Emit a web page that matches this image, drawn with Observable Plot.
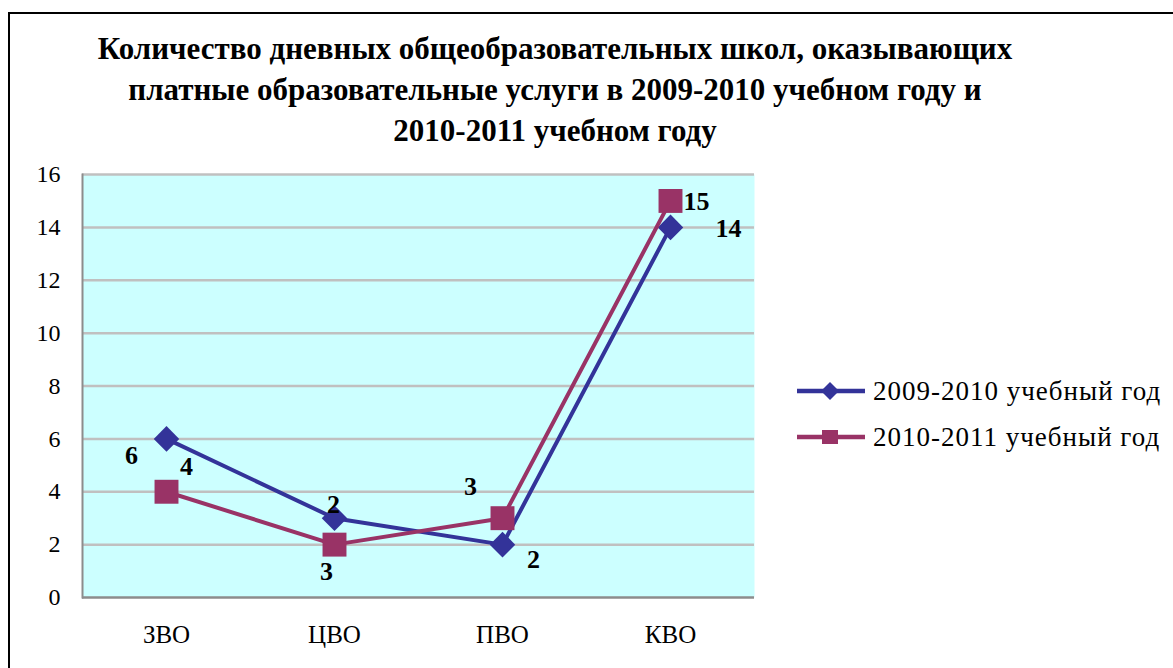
<!DOCTYPE html>
<html>
<head>
<meta charset="utf-8">
<script src="https://cdn.jsdelivr.net/npm/d3@7"></script>
<script src="https://cdn.jsdelivr.net/npm/@observablehq/plot@0.6"></script>
<style>
  html, body { margin: 0; padding: 0; background: #fff; }
  #wrap { position: relative; width: 1173px; height: 668px; overflow: hidden; background: #fff; color: #000; }
  #border { position: absolute; left: 8px; top: 12px; width: 1300px; height: 800px; border: 2px solid #000; }
  #title { position: absolute; left: 0; top: 28px; width: 1110px; text-align: center;
           font-weight: bold; font-size: 31px; line-height: 41px; }
  #chart { position: absolute; left: 0; top: 150px; }
  #legend { position: absolute; left: 797px; top: 368px; }
  .lg-row { display: flex; align-items: center; height: 46px; }
  .lg-row span { font-size: 27px; letter-spacing: 1px; margin-left: 8px; white-space: nowrap; }
</style>
</head>
<body>
<div id="wrap" style="font-family:'Liberation Serif'">
  <div id="border"></div>
  <div id="title" style="font-family:'Liberation Serif'"></div>
  <div id="chart"></div>
  <div id="legend" style="font-family:'Liberation Serif'"></div>
</div>
<script>
// ---- data ----
const categories = ["ЗВО", "ЦВО", "ПВО", "КВО"];
const values0910 = [6, 3, 2, 14];
const values1011 = [4, 2, 3, 15];
const labels0910 = ["6", "2", "2", "14"];
const labels1011 = ["4", "3", "3", "15"];
const yTicks = [0, 2, 4, 6, 8, 10, 12, 14, 16];
const seriesNames = ["2009-2010 учебный год", "2010-2011 учебный год"];
const titleLines = [
  "Количество дневных общеобразовательных школ, оказывающих",
  "платные образовательные услуги в 2009-2010 учебном году и",
  "2010-2011 учебном году"
];

// ---- layout/style constants ----
const colors = ["#333399", "#993366"];
const serif = "Liberation Serif";
const offsets0910 = [[-35, 17], [-1, -14], [31, 15], [58, 1]];
const offsets1011 = [[20, -25], [-8, 27], [-32, -32], [26, 1]];

document.getElementById("title").innerHTML = titleLines.map(t => `<div>${t}</div>`).join("");

const rows0910 = categories.map((c, i) => ({cat: c, v: values0910[i], label: labels0910[i]}));
const rows1011 = categories.map((c, i) => ({cat: c, v: values1011[i], label: labels1011[i]}));

const labelMarks = (rows, offs) => rows.map((d, i) => Plot.text([d], {
  x: "cat", y: "v", text: "label", dx: offs[i][0], dy: offs[i][1],
  fontWeight: "bold", fontSize: 26, fontFamily: serif, fill: "#000"
}));

const chart = Plot.plot({
  width: 1173,
  height: 518,
  marginTop: 24,
  marginBottom: 71,
  marginLeft: 82,
  marginRight: 419,
  style: {fontFamily: serif, background: "transparent", color: "#000", overflow: "visible"},
  x: {type: "point", domain: categories, padding: 0.5, label: null},
  y: {domain: [0, 16], label: null},
  marks: [
    Plot.frame({fill: "#ccffff", stroke: null}),
    Plot.ruleY(yTicks.filter(t => t > 0), {stroke: "#c0c0c0", strokeWidth: 2.5}),
    Plot.frame({anchor: "left", stroke: "#8c8c8c", strokeWidth: 2}),
    Plot.ruleY([0], {stroke: "#8c8c8c", strokeWidth: 2.5}),
    Plot.axisY({ticks: yTicks, tickSize: 0, tickPadding: 22, fontSize: 24, fontFamily: serif,
                style: {letterSpacing: "2px"}, label: null}),
    Plot.axisX({tickSize: 0, tickPadding: 28, fontSize: 25, fontFamily: serif,
                style: {letterSpacing: "2px"}, label: null}),
    Plot.line(rows0910, {x: "cat", y: "v", stroke: colors[0], strokeWidth: 4}),
    Plot.dot(rows0910, {x: "cat", y: "v", symbol: "diamond2", r: 11.5, fill: colors[0], stroke: null}),
    Plot.line(rows1011, {x: "cat", y: "v", stroke: colors[1], strokeWidth: 4}),
    Plot.dot(rows1011, {x: "cat", y: "v", symbol: "square", r: 13.5, fill: colors[1], stroke: null}),
    ...labelMarks(rows0910, offsets0910),
    ...labelMarks(rows1011, offsets1011)
  ]
});
document.getElementById("chart").appendChild(chart);

// ---- legend ----
const swatch = (i) => {
  const marker = i === 0
    ? `<path d="M33,11 L42,20 L33,29 L24,20 Z" fill="${colors[0]}"/>`
    : `<rect x="25" y="13" width="16" height="14" fill="${colors[1]}"/>`;
  return `<svg width="68" height="40"><line x1="0" x2="68" y1="20" y2="20" stroke="${colors[i]}" stroke-width="4.5"/>${marker}</svg>`;
};
document.getElementById("legend").innerHTML = seriesNames.map((n, i) =>
  `<div class="lg-row">${swatch(i)}<span>${n}</span></div>`).join("");
</script>
</body>
</html>
